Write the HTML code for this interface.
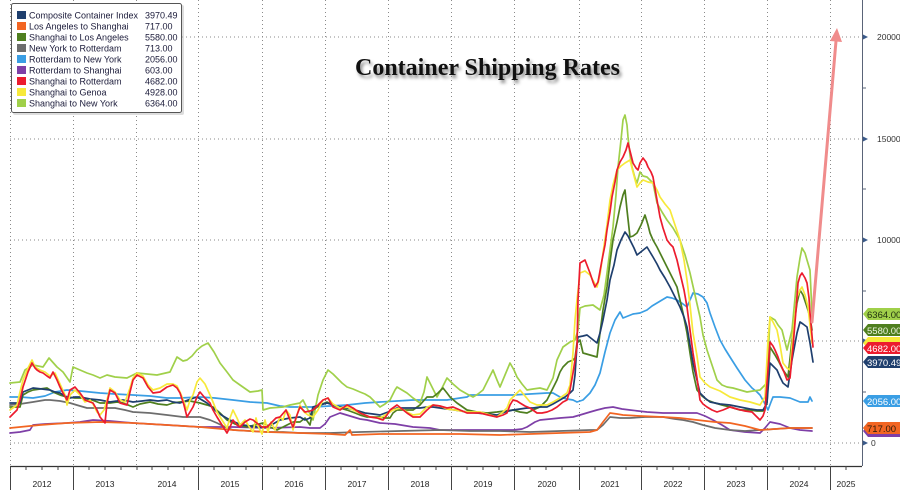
<!DOCTYPE html>
<html><head><meta charset="utf-8">
<style>
html,body{margin:0;padding:0;background:#fff;}
#wrap{position:relative;width:900px;height:490px;overflow:hidden;background:#fff;font-family:"Liberation Sans",sans-serif;}
svg{position:absolute;left:0;top:0;}
#title{position:absolute;left:355px;top:56px;font-family:"Liberation Serif",serif;font-weight:bold;font-size:24px;line-height:24px;color:#111;text-shadow:2px 3px 3px #8a8a8a;white-space:nowrap;}
</style></head><body>
<div id="wrap">
<svg width="900" height="490" viewBox="0 0 900 490" xmlns="http://www.w3.org/2000/svg">
<!-- gridlines -->
<g stroke="#8a8a8a" stroke-width="1" stroke-dasharray="1,3" fill="none">
<line x1="10" y1="37" x2="862" y2="37"/>
<line x1="10" y1="139" x2="862" y2="139"/>
<line x1="10" y1="240" x2="862" y2="240"/>
<line x1="10" y1="341" x2="862" y2="341"/>
<line x1="10" y1="443" x2="862" y2="443"/>
<line x1="10.5" y1="0" x2="10.5" y2="466"/>
<line x1="73.5" y1="0" x2="73.5" y2="466"/>
<line x1="136.5" y1="0" x2="136.5" y2="466"/>
<line x1="198.5" y1="0" x2="198.5" y2="466"/>
<line x1="262.5" y1="0" x2="262.5" y2="466"/>
<line x1="325.5" y1="0" x2="325.5" y2="466"/>
<line x1="388.5" y1="0" x2="388.5" y2="466"/>
<line x1="451.5" y1="0" x2="451.5" y2="466"/>
<line x1="514.5" y1="0" x2="514.5" y2="466"/>
<line x1="579.5" y1="0" x2="579.5" y2="466"/>
<line x1="641.5" y1="0" x2="641.5" y2="466"/>
<line x1="704.5" y1="0" x2="704.5" y2="466"/>
<line x1="767.5" y1="0" x2="767.5" y2="466"/>
<line x1="830.5" y1="0" x2="830.5" y2="466"/>
</g>

<!-- series -->
<g fill="none" stroke-width="1.7" stroke-linejoin="round" stroke-linecap="round">
<polyline stroke="#7e3fa7" points="10,433 20,432 30,430 33,425 45,424 67,423 80,422 93,420 110,421 133,423 167,425 200,427 233,427 267,428 300,427 310,428 320,428 325,424 330,417 340,413 350,416 360,419 367,420 380,423 395,424 413,427 430,428 440,430 480,430 513,430 522,429 527,427 535,422 540,420 560,418 573,417 580,415 590,412 597,410 605,408 613,407 622,409 630,410 647,412 663,413 680,413 697,413 705,416 713,420 722,425 730,430 745,432 760,433 765,428 770,422 775,423 780,424 790,428 800,430 812,431"/>
<polyline stroke="#6d6d6d" points="10,405 20,404 33,402 45,400 50,400 60,401 70,403 80,406 87,408 100,408 115,408 125,410 133,412 150,413 167,415 183,417 200,417 210,420 217,423 225,427 233,430 250,431 267,432 283,432 300,433 330,433 360,432 400,431 440,430 470,431 500,431 530,432 560,431 590,430 597,430 603,425 610,417 620,418 630,418 645,417 663,417 675,419 683,420 693,422 703,425 715,428 730,430 745,431 760,430 775,429 790,428 805,428 812,428"/>
<polyline stroke="#f26522" points="10,428 20,427 30,426 40,425 67,423 100,422 133,423 167,425 200,427 233,430 267,432 300,433 330,434 345,435 350,430 352,435 380,434 420,434 460,434 500,435 530,434 560,433 590,432 597,430 603,422 610,413 617,414 623,415 640,416 663,417 680,418 697,420 715,422 730,423 745,426 760,430 775,429 790,428 805,428 812,428"/>
<polyline stroke="#3a9ee4" points="10,397 20,397 33,398 45,396 55,392 67,390 80,391 90,392 100,393 115,394 133,395 150,396 167,398 180,398 200,397 215,398 233,400 250,402 267,403 280,406 290,407 300,407 313,407 330,406 347,405 365,403 380,402 397,401 413,400 430,400 447,400 460,398 467,397 470,395 490,395 513,395 530,394 547,393 553,393 560,397 567,399 573,400 577,402 583,400 590,393 595,385 600,373 605,352 610,333 615,320 620,312 623,318 628,316 633,314 640,313 647,310 652,306 657,303 662,300 667,297 672,298 677,300 683,304 687,307 690,300 693,293 698,294 703,297 707,303 710,313 715,327 720,340 725,349 730,357 737,368 745,380 752,388 757,392 760,395 764,402 768,410 771,402 773,397 780,397 790,398 800,402 808,402 810,397 812,401"/>
<polyline stroke="#a0d04a" points="10,383 20,382 25,370 33,365 43,367 49,358 57,367 63,372 70,382 73,367 80,370 87,373 93,375 100,378 107,375 115,377 127,378 137,373 147,374 157,375 170,372 177,357 183,361 187,360 192,356 197,350 202,346 208,343 214,352 220,363 227,372 233,380 240,385 250,392 258,391 262,390 263,410 270,408 283,407 290,405 300,403 303,400 308,410 313,420 318,395 323,380 328,370 333,374 337,378 342,383 347,387 353,389 360,392 365,394 370,397 375,402 380,407 385,404 390,400 395,390 397,387 402,390 407,393 413,398 420,403 424,392 427,377 432,387 437,397 442,388 447,378 453,384 460,390 467,394 473,397 478,394 483,390 488,380 493,370 497,380 500,387 505,375 510,363 514,370 517,377 522,384 527,390 533,389 540,388 547,390 553,378 557,360 563,347 570,342 575,340 578,330 580,308 585,306 593,305 600,310 604,295 607,273 610,250 613,227 616,195 618,167 621,140 623,120 625,115 627,125 628,137 630,155 632,167 635,178 637,183 640,172 643,176 647,177 650,180 653,183 657,203 662,212 667,220 673,228 680,240 685,255 690,273 695,295 700,317 703,335 707,350 712,365 717,380 722,385 727,387 733,388 740,390 747,392 753,391 760,390 767,383 770,317 775,320 778,325 782,330 787,350 792,330 797,277 800,258 802,248 805,253 807,260 810,270 812,314"/>
<polyline stroke="#4f7f1f" points="10,407 20,407 23,395 28,392 33,390 40,389 47,388 53,392 60,395 67,397 75,398 83,398 92,400 100,403 110,403 117,402 123,403 133,407 140,404 150,402 158,404 167,405 173,403 180,402 190,401 200,403 207,405 213,407 220,413 227,420 235,424 247,427 255,425 263,423 270,427 277,430 285,426 293,422 300,422 305,418 310,425 313,410 320,405 327,402 333,405 340,408 347,410 355,413 360,415 367,417 373,417 380,417 385,418 390,418 393,413 397,410 405,410 413,410 420,405 427,397 433,397 438,393 443,388 447,393 450,397 457,403 467,410 477,412 487,413 497,412 505,411 513,410 520,412 527,413 533,410 540,407 547,400 552,390 557,380 560,372 563,367 568,362 573,360 575,358 577,343 580,340 583,353 590,355 597,357 600,333 603,310 607,287 610,262 613,240 617,222 620,207 623,195 625,190 627,210 630,237 633,236 637,233 641,225 645,215 648,225 650,233 653,240 657,247 662,257 667,267 672,277 677,287 680,300 683,313 687,333 690,353 693,372 697,390 702,396 707,400 715,403 722,405 730,407 740,410 750,410 757,411 763,411 767,403 770,347 775,355 779,362 783,370 788,377 792,340 797,303 800,290 803,295 807,307 810,317 812,330"/>
<polyline stroke="#1f3f6e" points="10,403 20,403 23,392 28,390 33,388 42,389 50,390 55,392 60,393 65,396 70,398 75,397 80,397 90,399 100,400 110,402 117,401 123,400 133,402 142,401 150,400 158,401 167,400 173,402 180,403 188,400 197,397 207,403 213,408 217,412 223,416 230,420 237,423 243,425 250,426 257,427 267,427 273,424 280,420 290,418 300,417 305,420 310,418 313,407 320,405 327,403 333,405 340,407 347,408 355,410 365,413 373,414 380,415 388,412 397,408 405,408 413,408 420,408 427,407 433,407 440,408 447,409 455,410 467,412 477,413 487,414 497,415 505,412 513,410 520,409 527,408 533,408 540,407 547,407 553,404 560,400 565,397 570,393 573,390 575,375 577,345 578,337 583,336 587,335 592,339 597,343 600,333 603,320 607,300 610,280 614,265 617,250 621,240 625,232 628,236 630,240 634,248 637,255 642,251 647,247 650,252 653,257 657,264 660,270 665,278 670,287 675,297 680,307 684,317 687,327 690,345 693,363 697,380 700,393 705,398 710,402 720,404 730,405 740,407 750,409 757,410 763,410 767,403 770,363 773,366 777,370 780,377 783,383 788,387 792,360 797,333 800,322 803,324 807,327 810,343 813,362"/>
<polyline stroke="#f7e93a" points="10,410 17,405 20,392 23,380 28,368 32,360 35,367 40,370 45,372 50,376 55,373 60,384 65,395 67,405 70,395 75,390 80,395 85,402 90,400 93,404 97,412 100,415 104,410 107,400 110,388 115,392 120,400 125,402 130,388 133,378 137,373 143,376 148,385 153,390 160,388 167,384 173,384 177,386 180,392 184,402 187,410 190,400 193,395 197,382 200,378 205,384 210,395 213,402 217,412 222,420 227,428 230,418 233,410 237,418 240,425 245,420 250,428 253,432 256,418 258,426 262,434 265,420 268,432 271,422 275,430 280,417 283,420 286,410 290,415 293,430 297,415 300,405 304,412 308,415 313,417 318,410 323,400 328,398 333,404 340,408 347,407 353,410 360,413 370,417 380,418 387,414 393,410 400,408 407,412 413,415 420,414 427,407 433,405 440,406 447,409 455,410 467,412 480,412 490,415 497,417 503,412 507,408 510,400 513,397 517,393 520,390 525,396 530,402 537,405 547,405 553,402 560,398 567,393 570,385 573,353 575,320 577,300 580,273 585,271 590,275 595,284 597,287 600,275 603,253 607,225 610,200 613,185 617,170 621,166 625,163 630,160 633,172 637,187 640,183 643,180 648,182 653,183 657,190 660,197 665,204 670,210 675,225 680,240 684,260 687,280 690,305 693,333 697,356 700,377 705,383 710,387 720,391 730,397 740,400 750,402 760,405 765,397 768,340 770,317 773,322 777,330 780,345 783,363 787,368 790,370 793,333 797,297 800,290 802,287 805,295 808,307 812,343"/>
<polyline stroke="#ec1c2e" points="10,417 17,410 20,400 23,387 28,372 32,363 35,368 37,370 40,372 43,373 47,376 50,378 53,372 57,380 60,387 63,393 67,400 70,390 75,387 80,393 85,400 90,402 93,403 97,410 100,417 105,423 107,403 110,390 115,393 120,403 127,405 130,392 133,380 137,375 143,378 148,387 153,393 160,392 167,387 173,385 177,388 180,393 184,405 187,417 190,412 193,407 197,397 200,392 205,398 210,403 213,410 217,417 222,425 227,433 230,427 233,420 237,425 240,427 245,422 250,419 253,420 258,424 262,427 267,427 272,422 276,418 280,417 286,410 290,420 293,427 297,415 300,407 305,412 310,411 313,410 318,405 323,400 328,398 333,407 340,410 347,405 353,408 360,413 365,415 370,417 377,418 383,420 387,415 390,410 397,405 402,409 407,413 413,417 420,417 427,410 433,405 440,406 447,408 453,407 460,410 467,413 473,413 480,413 488,415 497,417 503,415 507,413 510,405 513,400 517,401 520,403 525,406 530,408 537,413 542,413 547,412 552,410 557,407 563,402 567,400 570,390 573,373 575,360 577,347 578,300 580,263 585,260 590,273 593,282 595,287 598,282 602,260 605,245 607,230 610,212 612,197 615,182 617,170 620,162 623,157 626,150 628,143 631,155 633,163 636,168 638,170 640,163 643,158 646,162 648,167 651,172 653,177 657,200 660,217 663,228 667,240 670,244 673,247 677,260 680,273 684,290 687,307 690,330 693,353 697,378 700,400 703,404 707,407 712,410 717,412 723,410 730,407 737,409 745,411 752,412 760,420 763,416 765,410 768,370 770,342 773,346 775,350 778,357 780,363 784,372 787,380 790,378 793,347 796,310 798,283 800,276 802,273 805,278 807,283 809,298 810,313 813,347"/>
</g>

<!-- pink arrow -->
<line x1="812" y1="322" x2="836" y2="41" stroke="#f08c8c" stroke-width="3" stroke-linecap="round"/>
<polygon points="837,28 842,42 830,41" fill="#f08c8c"/>

<!-- right axis -->
<line x1="862.5" y1="0" x2="862.5" y2="466" stroke="#5a6478" stroke-width="1"/>
<g stroke="#5a6478" stroke-width="1">
<line x1="862" y1="88" x2="866" y2="88"/>
<line x1="862" y1="189" x2="866" y2="189"/>
<line x1="862" y1="291" x2="866" y2="291"/>
<line x1="862" y1="392" x2="866" y2="392"/>
</g>
<g fill="#3a5a8a">
<polygon points="863,34.5 868,37 863,39.5"/>
<polygon points="863,136.5 868,139 863,141.5"/>
<polygon points="863,237.5 868,240 863,242.5"/>
<polygon points="863,338.5 868,341 863,343.5"/>
<polygon points="863,440.5 868,443 863,445.5"/>
</g>
<g font-family="Liberation Sans, sans-serif" font-size="8.5" fill="#333">
<text x="877" y="40">20000</text>
<text x="877" y="142">15000</text>
<text x="877" y="243">10000</text>
<text x="871" y="446">0</text>
</g>

<!-- badges -->
<g font-family="Liberation Sans, sans-serif" font-size="9.5">
<polygon points="863,431 868,425 900,425 900,437 868,437" fill="#7e3fa7"/>
<polygon points="863,428 868,422 900,422 900,434 868,434" fill="#6d6d6d"/>
<polygon points="863,428 868,422 900,422 900,434 868,434" fill="#f26522"/>
<text x="867" y="432" fill="#2a1a0a">717.00</text>
<polygon points="863,401 868,395 900,395 900,407 868,407" fill="#3a9ee4"/>
<text x="867" y="405" fill="#fff">2056.00</text>
<polygon points="863,314 868,308 900,308 900,320 868,320" fill="#a0d04a"/>
<text x="867" y="318" fill="#223310">6364.00</text>
<polygon points="863,330 868,324 900,324 900,336 868,336" fill="#4f7f1f"/>
<text x="867" y="334" fill="#eef5e0">5580.00</text>
<polygon points="863,343 868,337 900,337 900,349 868,349" fill="#f7e93a"/>
<polygon points="863,348 868,342 900,342 900,354 868,354" fill="#ec1c2e"/>
<text x="867" y="352" fill="#fff">4682.00</text>
<polygon points="863,362 868,356 900,356 900,368 868,368" fill="#1f3f6e"/>
<text x="867" y="366" fill="#fff">3970.49</text>
</g>

<!-- x axis -->
<line x1="10" y1="466.5" x2="862" y2="466.5" stroke="#333" stroke-width="1.3"/>
<g stroke="#444" stroke-width="1">
<line x1="10.5" y1="466" x2="10.5" y2="490"/>
<line x1="73.5" y1="466" x2="73.5" y2="490"/>
<line x1="198.5" y1="466" x2="198.5" y2="490"/>
<line x1="262.5" y1="466" x2="262.5" y2="490"/>
<line x1="325.5" y1="466" x2="325.5" y2="490"/>
<line x1="388.5" y1="466" x2="388.5" y2="490"/>
<line x1="451.5" y1="466" x2="451.5" y2="490"/>
<line x1="514.5" y1="466" x2="514.5" y2="490"/>
<line x1="579.5" y1="466" x2="579.5" y2="490"/>
<line x1="641.5" y1="466" x2="641.5" y2="490"/>
<line x1="704.5" y1="466" x2="704.5" y2="490"/>
<line x1="767.5" y1="466" x2="767.5" y2="490"/>
<line x1="830.5" y1="466" x2="830.5" y2="490"/>
</g>
<g stroke="#444" stroke-width="1">
<path d="M26,466v4M42,466v4M58,466v4M89,466v4M105,466v4M121,466v4M137,466v4M152,466v4M168,466v4M184,466v4M214,466v4M230,466v4M246,466v4M278,466v4M294,466v4M310,466v4M341,466v4M357,466v4M373,466v4M404,466v4M420,466v4M436,466v4M467,466v4M483,466v4M499,466v4M530,466v4M546,466v4M562,466v4M595,466v4M610,466v4M626,466v4M657,466v4M673,466v4M689,466v4M720,466v4M736,466v4M752,466v4M783,466v4M799,466v4M815,466v4M846,466v4"/>
</g>
<g font-family="Liberation Sans, sans-serif" font-size="8.5" fill="#222" text-anchor="middle">
<text x="42" y="487">2012</text>
<text x="105" y="487">2013</text>
<text x="167" y="487">2014</text>
<text x="230" y="487">2015</text>
<text x="294" y="487">2016</text>
<text x="357" y="487">2017</text>
<text x="420" y="487">2018</text>
<text x="483" y="487">2019</text>
<text x="547" y="487">2020</text>
<text x="610" y="487">2021</text>
<text x="673" y="487">2022</text>
<text x="736" y="487">2023</text>
<text x="799" y="487">2024</text>
<text x="846" y="487">2025</text>
</g>

<!-- legend -->
<rect x="13" y="5" width="171" height="110" rx="2" fill="#bbb" opacity="0.5"/>
<rect x="11.5" y="3.5" width="170" height="109" rx="2" fill="#fff" stroke="#555" stroke-width="1"/>
<g>
<rect x="17" y="11" width="9" height="8" fill="#1f3f6e"/>
<rect x="17" y="22" width="9" height="8" fill="#f26522"/>
<rect x="17" y="33" width="9" height="8" fill="#4f7f1f"/>
<rect x="17" y="44" width="9" height="8" fill="#6d6d6d"/>
<rect x="17" y="55" width="9" height="8" fill="#3a9ee4"/>
<rect x="17" y="66" width="9" height="8" fill="#7e3fa7"/>
<rect x="17" y="77" width="9" height="8" fill="#ec1c2e"/>
<rect x="17" y="88" width="9" height="8" fill="#f7e93a"/>
<rect x="17" y="99" width="9" height="8" fill="#a0d04a"/>
</g>
<g font-family="Liberation Sans, sans-serif" font-size="9" fill="#1b1b3a">
<text x="29" y="18.5">Composite Container Index</text>
<text x="29" y="29.5">Los Angeles to Shanghai</text>
<text x="29" y="40.5">Shanghai to Los Angeles</text>
<text x="29" y="51.5">New York to Rotterdam</text>
<text x="29" y="62.5">Rotterdam to New York</text>
<text x="29" y="73.5">Rotterdam to Shanghai</text>
<text x="29" y="84.5">Shanghai to Rotterdam</text>
<text x="29" y="95.5">Shanghai to Genoa</text>
<text x="29" y="106.5">Shanghai to New York</text>
<text x="145" y="18.5">3970.49</text>
<text x="145" y="29.5">717.00</text>
<text x="145" y="40.5">5580.00</text>
<text x="145" y="51.5">713.00</text>
<text x="145" y="62.5">2056.00</text>
<text x="145" y="73.5">603.00</text>
<text x="145" y="84.5">4682.00</text>
<text x="145" y="95.5">4928.00</text>
<text x="145" y="106.5">6364.00</text>
</g>
</svg>
<div id="title">Container Shipping Rates</div>
</div>
</body></html>
